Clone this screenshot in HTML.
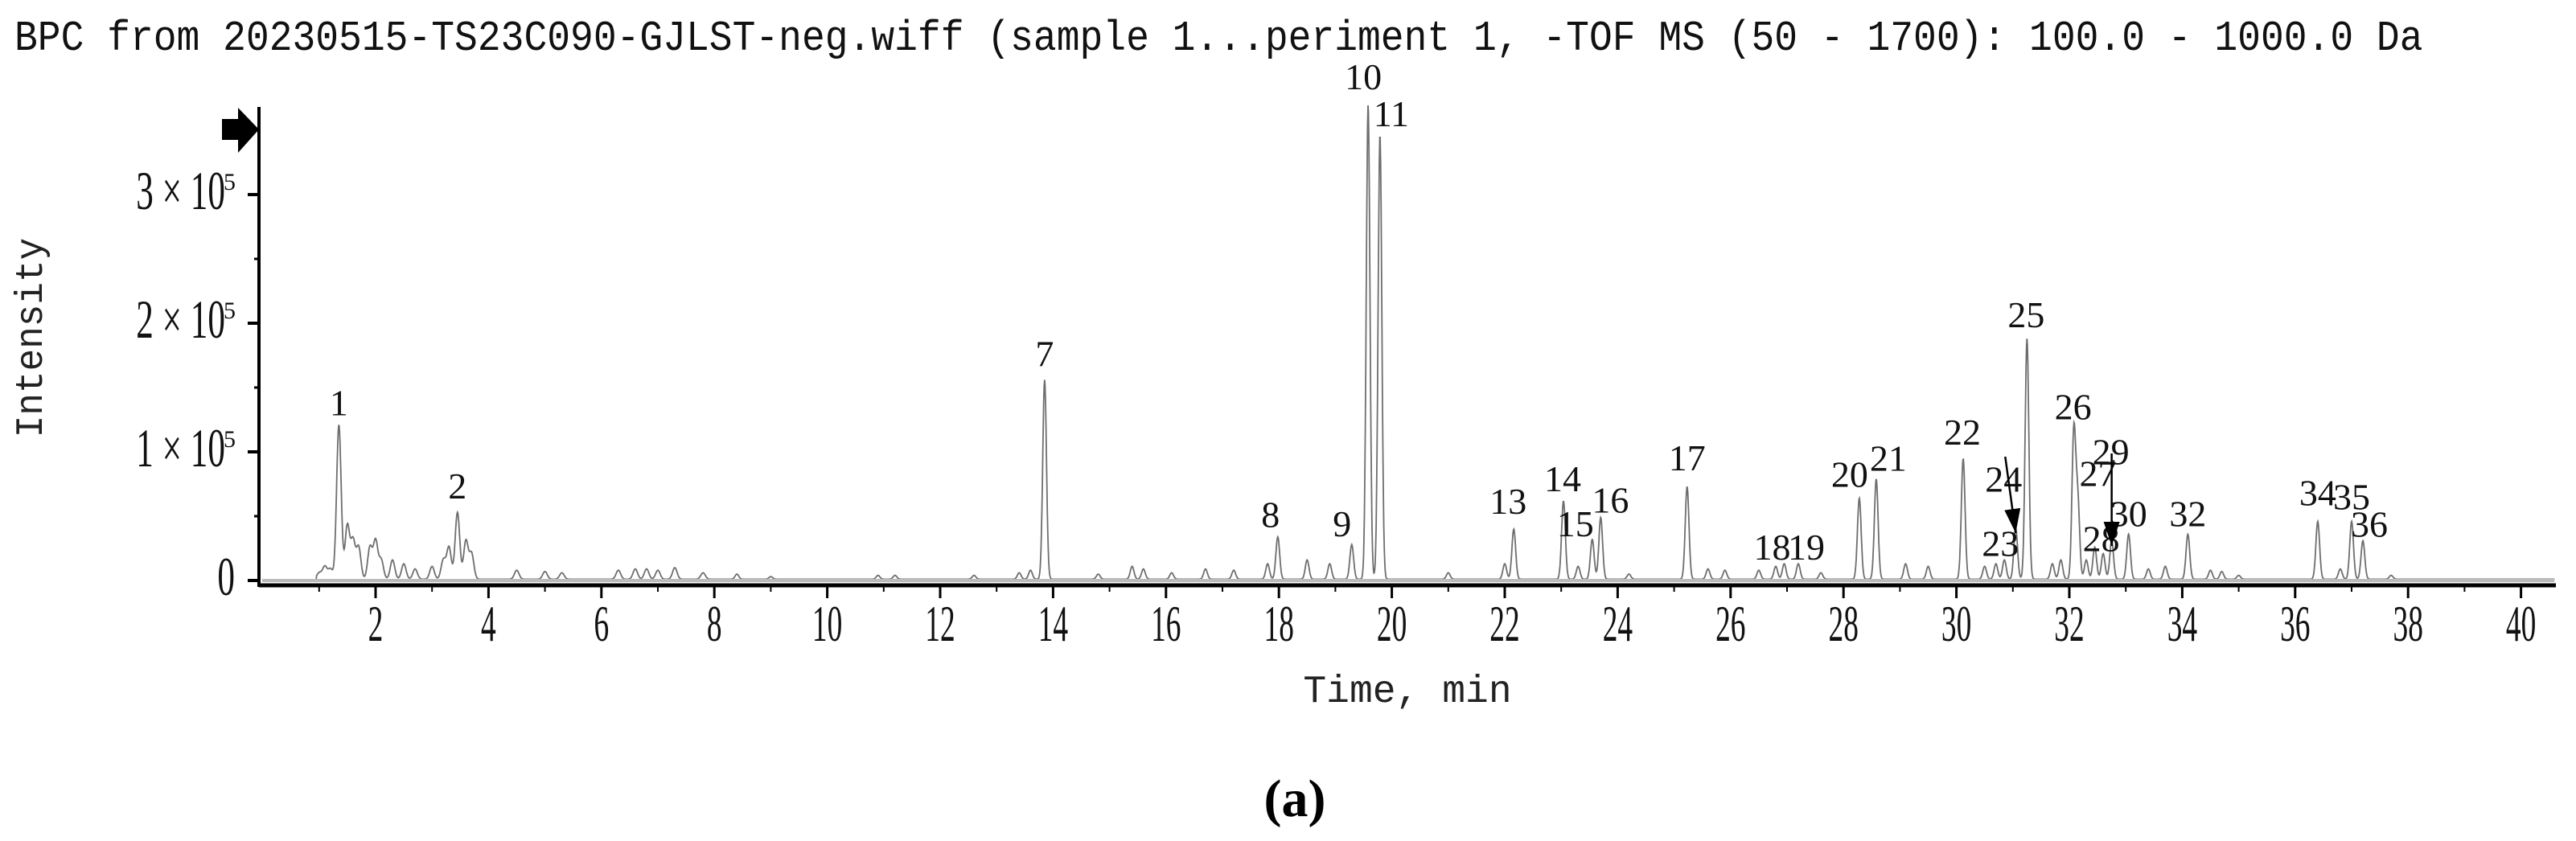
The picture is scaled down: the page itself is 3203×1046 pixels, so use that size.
<!DOCTYPE html>
<html><head><meta charset="utf-8">
<style>
html,body{margin:0;padding:0;background:#fff;}
svg{display:block;}
.mono{font-family:"Liberation Mono","Noto Sans CJK SC",monospace;}
.serif{font-family:"Liberation Serif",serif;}
</style></head>
<body>
<svg id="chart" width="3203" height="1046" viewBox="0 0 3203 1046" xmlns="http://www.w3.org/2000/svg">
<rect width="3203" height="1046" fill="#fff"/>
<text class="mono" x="18" y="62" font-size="48" fill="#111" transform="translate(0,-6) scale(1,1.1)">BPC from 20230515-TS23C090-GJLST-neg.wiff (sample 1...periment 1, -TOF MS (50 - 1700): 100.0 - 1000.0 Da</text>
<g id="plot"></g>
<text class="mono" font-size="46" fill="#222" text-anchor="middle" transform="translate(52,420) rotate(-90) scale(1,1.05)">Intensity</text>
<text class="mono" font-size="48" fill="#222" x="1750" y="873" text-anchor="middle">Time, min</text>
<text class="serif" font-size="66" fill="#000" x="1610" y="1015" text-anchor="middle" font-weight="bold">(a)</text>
</svg>
<script>
// ---- data ----
const xTicks = [2,4,6,8,10,12,14,16,18,20,22,24,26,28,30,32,34,36,38,40];
const yTicks = [0,1,2,3];          // in units of 1e5
const yTickLabels = ["0","1 \u00d7 10","2 \u00d7 10","3 \u00d7 10"];
// labelled peaks
const peakIds   = ["1","2","7","8","9","10","11","13","14","15","16","17","18","19","20","21","22","23","24","25","26","27","28","29","30","32","34","35","36"];
const peakTimes = [1.35,3.45,13.85,17.98,19.29,19.58,19.79,22.16,23.04,23.55,23.7,25.23,26.95,27.2,28.28,28.58,30.12,30.85,31.05,31.25,32.08,32.15,32.45,32.75,33.05,34.1,36.4,37.0,37.2];
const peakHeights = [1.2,0.52,1.55,0.33,0.27,3.69,3.46,0.39,0.61,0.31,0.48,0.72,0.12,0.12,0.63,0.78,0.94,0.15,0.4,1.87,1.15,0.6,0.25,0.3,0.35,0.35,0.45,0.45,0.3];
// minor (unlabelled) peaks
const minorTimes = [1.0,1.1,1.2,1.5,1.6,1.7,1.9,2.0,2.1,2.3,2.5,2.7,3.0,3.2,3.3,3.6,3.7,4.5,5.0,5.3,6.3,6.6,6.8,7.0,7.3,7.8,8.4,9.0,10.9,11.2,12.6,13.4,13.6,14.8,15.4,15.6,16.1,16.7,17.2,17.8,18.5,18.9,21.0,22.0,23.3,24.2,25.6,25.9,26.5,26.8,27.6,29.1,29.5,30.5,30.7,31.7,31.85,32.3,32.6,33.4,33.7,34.5,34.7,35.0,36.8,37.7];
const minorHeights = [0.05,0.1,0.08,0.42,0.3,0.25,0.25,0.3,0.15,0.15,0.12,0.08,0.1,0.15,0.25,0.3,0.2,0.07,0.06,0.05,0.07,0.08,0.08,0.07,0.09,0.05,0.04,0.02,0.03,0.03,0.03,0.05,0.07,0.04,0.1,0.08,0.05,0.08,0.07,0.12,0.15,0.12,0.05,0.12,0.1,0.04,0.08,0.07,0.07,0.1,0.05,0.12,0.1,0.1,0.12,0.12,0.15,0.15,0.2,0.08,0.1,0.07,0.06,0.03,0.08,0.03];
// label offsets (text centre relative to peak top), in px
const labelDx = [0,0,0,-9,-12,-6,14,-7,-1,-21,12,0,-15,10,-12,15,-1,-5,-15,-1,-1,25,8,-1,0,0,0,0,8];
const labelDy = [-27,-32,-32,-27,-25,-34,-25,-34,-27,-19,-21,-35,-20,-20,-29,-25,-32,-20,-60,-29,-30,-35,-10,-110,-25,-25,-35,-30,-20];

// ---- axes ----
const X0=467, PX=70.2, Y0=722, PY=160;
const xs = t => X0 + (t-2)*PX;
const ys = v => Y0 - v*PY;
const NS='http://www.w3.org/2000/svg';
const plot=document.getElementById('plot');
function mk(tag,attrs,parent){const e=document.createElementNS(NS,tag);for(const k in attrs)e.setAttribute(k,attrs[k]);(parent||plot).appendChild(e);return e;}

// signal
function signal(t){
  if(t<0.95) return 0.0;
  let s=0.01;
  for(let i=0;i<peakTimes.length;i++){const w=peakTimes[i]<5?0.04:0.033;const d=(t-peakTimes[i])/w;s+=peakHeights[i]*Math.exp(-0.5*d*d);}
  for(let i=0;i<minorTimes.length;i++){const w=minorTimes[i]<8?0.04:0.033;const d=(t-minorTimes[i])/w;s+=minorHeights[i]*Math.exp(-0.5*d*d);}
  return s;
}
let d='';
for(let t=0.05;t<=40.6;t+=0.008){d+=(d?'L':'M')+xs(t).toFixed(1)+','+ys(signal(t)).toFixed(1);}
const line=mk('path',{d:d,fill:'none',stroke:'#6e6e6e','stroke-width':1.8});



// baseline gray band
const band=mk('rect',{x:326,y:Y0-2,width:2850,height:4,fill:'#bbb'});



// x axis
const xa=mk('line',{x1:322,y1:Y0+6,x2:3178,y2:Y0+6,stroke:'#000','stroke-width':5});


for(let t=1;t<=40;t++){
  const major=xTicks.includes(t);
  const tk=mk('line',{x1:xs(t),y1:Y0+6,x2:xs(t),y2:Y0+(major?22:14),stroke:'#000','stroke-width':major?3:2});
  
  
}
xTicks.forEach(t=>{
  const tx=mk('text',{x:0,y:0,'font-size':52,'text-anchor':'middle',fill:'#111',class:'serif',transform:`translate(${xs(t)},797) scale(0.72,1.22)`});
  tx.textContent=String(t);
  
  
});
// y axis
const ya=mk('line',{x1:322,y1:133,x2:322,y2:Y0+8,stroke:'#000','stroke-width':4});


for(let v=0;v<=3.5;v+=0.5){
  const major=Number.isInteger(v);
  const tk=mk('line',{x1:major?308:316,y1:ys(v),x2:322,y2:ys(v),stroke:'#000','stroke-width':major?4:3});
  
  
}
yTicks.forEach((v,i)=>{
  const g=mk('text',{x:0,y:0,'font-size':54,'text-anchor':'end',fill:'#111',class:'serif',transform:`translate(${v===0?292:280},${ys(v)+18}) scale(0.8,1.25)`});
  g.textContent=yTickLabels[i];
  
  
  if(v>0){
    const sp=mk('text',{x:293,y:ys(v)-6,'font-size':30,'text-anchor':'end',fill:'#111',class:'serif'});
    sp.textContent='5';
    
    
  }
});
// top arrow marker
const arr=mk('path',{d:'M276,148 L296,148 L296,134 L322,161 L296,190 L296,174 L276,174 Z',fill:'#000'});



// peak labels
peakIds.forEach((id,i)=>{
  const px=xs(peakTimes[i]), py=ys(peakHeights[i]+0.01);
  const tx=mk('text',{x:px+labelDx[i],y:py+labelDy[i]+15,'font-size':46,'text-anchor':'middle',fill:'#111',class:'serif'});
  tx.textContent=id;
  
  
});
// arrows for 24 and 29
function arrow(x1,y1,x2,y2,name){
  const l=mk('line',{x1:x1,y1:y1,x2:x2,y2:y2,stroke:'#000','stroke-width':2.5});
  
  
  const a=Math.atan2(y2-y1,x2-x1),L=30,W=10;
  const bx=x2-L*Math.cos(a),by=y2-L*Math.sin(a);
  const h=mk('path',{d:`M${x2},${y2} L${bx+W*Math.sin(a)},${by-W*Math.cos(a)} L${bx-W*Math.sin(a)},${by+W*Math.cos(a)} Z`,fill:'#000'});
  
  
}
const i24=peakIds.indexOf('24'), i29=peakIds.indexOf('29');
arrow(xs(peakTimes[i24])-13,ys(peakHeights[i24])-90,xs(peakTimes[i24]),ys(peakHeights[i24])+5,'peak-24-arrow');
arrow(xs(peakTimes[i29]),ys(peakHeights[i29])-110,xs(peakTimes[i29]),ys(peakHeights[i29])+5,'peak-29-arrow');
</script>
</body></html>
